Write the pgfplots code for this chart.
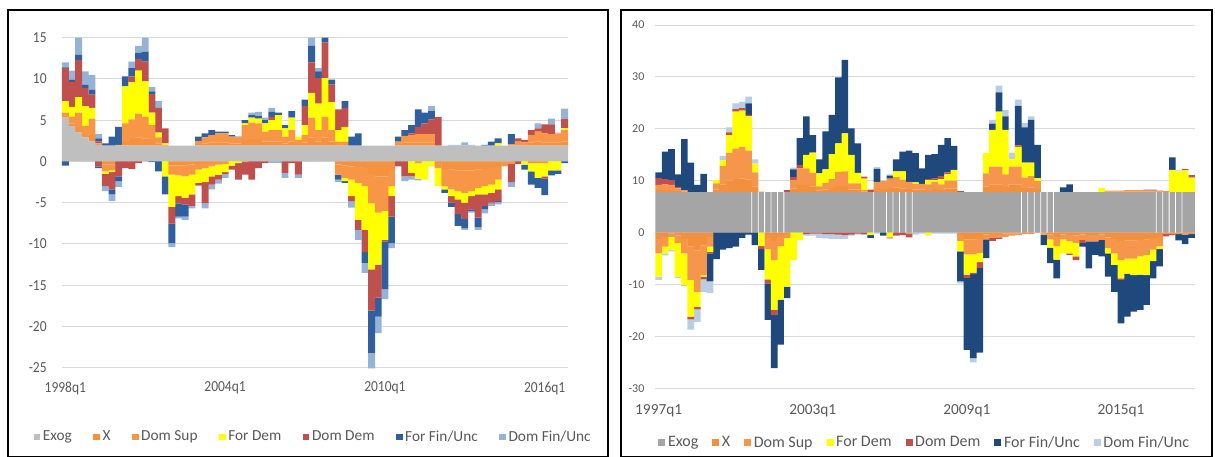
\documentclass[border=0pt]{standalone}
\usepackage{pgfplots}
\pgfplotsset{compat=1.18}
\usepackage{pgfplotstable}
\usepackage{fontspec}
\setmainfont{Carlito}
\newfontfamily\narrowfont[FakeStretch=0.88]{Carlito}

\definecolor{txt}{HTML}{595959}
\definecolor{gridc}{HTML}{D9D9D9}
% palette of the left chart
\definecolor{Lex}{HTML}{BFBFBF}
\definecolor{Lx}{HTML}{F5923F}
\definecolor{Lds}{HTML}{F79646}
\definecolor{Lfd}{HTML}{FFFF00}
\definecolor{Ldd}{HTML}{C0504D}
\definecolor{Lff}{HTML}{2F5F9E}
\definecolor{Ldf}{HTML}{95B3D7}
% palette of the right chart
\definecolor{Rex}{HTML}{A5A5A5}
\definecolor{Rx}{HTML}{F3903E}
\definecolor{Rds}{HTML}{F6964C}
\definecolor{Rfd}{HTML}{FFFF00}
\definecolor{Rdd}{HTML}{C0504D}
\definecolor{Rff}{HTML}{1F487C}
\definecolor{Rdf}{HTML}{B9CDE5}

% columns: quarter, Exog, then X, Dom Sup, For Dem, Dom Dem, For Fin/Unc, Dom Fin/Unc
% (positive parts *p, negative parts *n)
\pgfplotstableread{
q ex xp sp fp dp up vp xn sn fn dn un vn
0 5.3 0.2 0.4 1.4 4.0 0.1 0.6 0 0 0 0 -0.5 0
1 4.3 0.3 0.8 1.2 3.0 0.3 1.1 0 0 0 0 0 0
2 3.5 0.7 1.7 1.9 4.5 0.6 2.1 0 0 0 0 0 0
3 2.9 0.4 1.0 2.4 2.2 0.4 1.6 0 0 0 0 0 0
4 2.4 0.8 2.0 1.3 1.6 0.6 1.8 0 0 0 0 0 0
5 2.0 0 0.2 0 0.2 0.4 0.5 0 0 0 -0.6 -0.2 0
6 1.9 0 0 0 0 0.3 0 -0.4 -0.8 -0.3 -1.5 0 -0.6
7 1.9 0 0 0 0 1.1 0 -0.4 -0.7 -0.2 -2.1 -0.6 -0.8
8 1.9 0 0.1 0 0 2.2 0 0 0 0 -1.8 -0.6 -0.7
9 1.9 0.6 2.1 4.5 0 1.2 0 0 0 0 -0.8 0 0
10 1.9 0.8 2.4 4.5 0.7 1.0 0.8 0 0 0 -0.9 0 0
11 1.9 1.0 2.9 5.2 1.4 0.8 0.8 0 0 0 -0.2 0 0
12 1.9 0.9 2.6 4.3 2.4 1.2 1.7 0 0 0 0 0 0
13 1.9 0.7 1.8 1.5 2.3 0.3 0.5 0 0 0 0 -0.1 0
14 1.9 0.3 0.7 0.6 3.0 0 0.8 0 0 0 0 -1.2 0
15 1.9 0 0.1 0.2 1.8 0 0 0 0 -1.8 0 -2.2 0
16 1.9 0 0 0 0 0 0 -0.5 -1.1 -3.9 -2.0 -2.4 -0.5
17 1.9 0 0 0 0 0 0 -0.5 -1.2 -2.5 -0.9 -1.6 -0.2
18 1.9 0 0 0 0 0 0 -0.5 -1.3 -2.6 -0.8 -1.5 -0.4
19 1.9 0 0 0 0 0 0 -0.4 -1.2 -2.4 -1.4 0 -0.3
20 1.9 0.2 0.4 0 0 0.5 0 -0.3 -0.7 -1.6 -0.3 0 -0.1
21 1.9 0.3 0.7 0 0 0.5 0 -0.2 -0.6 -1.7 -2.6 0 -0.6
22 1.9 0.4 0.9 0 0 0.6 0 -0.2 -0.4 -1.2 -1.0 0 -0.6
23 1.9 0.4 1.1 0 0 0.2 0 -0.1 -0.3 -1.2 -0.6 0 -0.5
24 1.9 0.4 1.1 0 0 0.2 0 0 -0.3 -1.0 -0.2 0 -0.5
25 1.9 0.3 0.8 0 0 0.2 0 0 0 -0.5 -0.5 0 0
26 1.9 0.3 0.7 0 0 0.1 0 0 0 -0.2 -2.0 0 0
27 1.9 0.7 1.8 0.2 0 0.4 0 0 -0.1 0 -1.5 0 0
28 1.9 0.8 2.0 0.6 0 0.3 0.3 0 0 0 -2.2 0 0
29 1.9 0.8 1.9 0.6 0 0.3 0.5 0 0 0 -0.8 0 0
30 1.9 0.5 1.2 1.0 0 0.4 0.3 0 0 0 -0.2 0 0
31 1.9 0.5 1.4 1.2 0.4 0.6 0.5 0 0 0 0 0 -0.2
32 1.9 0.5 1.4 1.8 0 0.3 0 0 0 0 0 0 -0.2
33 1.9 0.3 0.8 1.0 0 0.4 0 0 0 0 -1.4 0 -0.6
34 1.9 0.5 1.4 1.5 0 0.8 0 0 0 0 -0.2 0 0
35 1.9 0.2 0.5 0.4 0 0 0 0 0 0 -1.6 0 -0.4
36 1.9 0.4 0.9 1.2 2.3 0.8 0 0 0 0 0 0 0
37 1.9 1.0 2.4 3.0 3.7 2.0 1.0 0 0 0 0 0 0
38 1.9 0.5 1.4 3.2 3.1 0.8 0.4 0 0 0 0 0 0
39 1.9 1.0 2.5 4.7 4.3 0.6 0 0 0 0 0 0 0
40 1.9 0.5 1.4 3.4 2.1 0.6 0 0 0 0 0 0 0
41 1.9 0.1 0.4 1.4 2.5 0 0 -0.4 -1.2 0 0 -0.6 -0.3
42 1.9 0.2 0.3 1.8 2.3 0.8 0 -0.5 -1.5 -0.4 0 -0.2 0
43 1.9 0 0 0 0 1.1 0 -0.6 -1.6 -2.0 -0.6 0 -0.8
44 1.9 0 0 0 0 1.5 0 -0.7 -1.9 -4.5 -1.2 0 -1.2
45 1.9 0 0 0 0 0 0 -0.8 -2.2 -5.3 -2.7 -1.3 -1.2
46 1.9 0 0 0 0 0 0 -1.5 -3.6 -8.0 -5.0 -5.1 -1.9
47 1.9 0 0 0 0 0 0 -1.8 -4.4 -6.3 -4.0 -2.3 -2.0
48 1.9 0 0 0 0 0 0 -1.8 -4.2 -3.5 -0.2 -5.8 -1.2
49 1.9 0 0 0 0 0 0 -0.9 -2.1 -1.2 -2.5 -3.2 -0.6
50 1.9 0.2 0.3 0 0 0.6 0 0 0 0 -0.6 0 0
51 1.9 0.4 0.8 0 0 0.7 0 0 0 0 -1.8 0 -0.6
52 1.9 0.4 0.9 0 0.2 1.0 0 0 0 -1.4 -0.4 0 -0.4
53 1.9 0.4 1.0 0 0.9 2.1 0 0 -0.2 -1.9 0 0 -0.2
54 1.9 0.4 1.0 0 1.3 1.3 0 0 0 -2.2 0 0 0
55 1.9 0.4 1.0 0 1.8 1.0 0.6 0 0 -0.6 0 0 0
56 1.9 0 0 0 3.5 0 0 -0.2 -0.6 -2.2 0 0 0
57 1.9 0 0 0 0 0 0 -0.9 -2.1 -0.4 0 -0.4 0
58 1.9 0 0 0 0 0 0.1 -1.0 -2.4 -0.8 -0.8 -0.5 0
59 1.9 0 0 0 0 0 0.1 -1.1 -2.5 -1.0 -1.8 -1.4 0
60 1.9 0 0 0 0 0 0.4 -1.1 -2.7 -1.2 -2.0 -1.1 -0.2
61 1.9 0 0 0 0 0 0.1 -1.1 -2.5 -0.6 -1.6 -0.2 -0.2
62 1.9 0 0 0 0 0 0 -1.0 -2.2 -0.8 -2.8 -1.2 -0.3
63 1.9 0 0 0 0 0.1 0 -0.9 -2.1 -1.0 -1.4 -0.4 -0.5
64 1.9 0 0 0 0 0.5 0 -0.8 -2.0 -1.0 -1.2 -0.1 -0.3
65 1.9 0 0 0.3 0 0.6 0 -0.7 -1.5 -1.2 -1.4 -0.1 -0.3
66 1.9 0 0 0 0 0 0 0 -0.6 0 0 0 0
67 1.9 0 0.2 0 0 1.2 0 0 -0.3 0 -2.2 0 -0.6
68 1.9 0.1 0.4 0 0.4 0 0 0 0 0 -0.3 0 0
69 1.9 0.1 0.3 0 0.3 0 0 0 0 -0.4 0 -0.6 0
70 1.9 0.4 0.9 0 0.6 0 0 -0.2 0 -1.0 0 -1.6 0
71 1.9 0.5 1.2 0 0.4 0 0.6 0 -0.2 -1.8 0 -1.2 0
72 1.9 0.4 1.1 0 1.1 0 0 0 -0.2 -1.6 -0.3 -2.0 0
73 1.9 0.4 1.0 0 1.2 0 0.7 0 0 -1.1 0 -0.6 0
74 1.9 0.4 1.1 0 0 0 0.1 0 0 -1.1 0 -0.4 0
75 1.9 0.5 1.4 0.2 1.2 0 1.2 0 0 0 0 -0.2 0
}\Left

\pgfplotstableread{
q ex xp sp fp dp up vp xn sn fn dn un vn
0 7.8 0.4 1.0 0 1.3 1.1 0 -1.2 -2.8 -4.5 0 0 -0.6
1 7.8 0.4 1.1 0 1.0 5.3 0 -0.8 -1.9 -1.3 0 0 -0.4
2 7.8 0.4 1.0 0 0.9 6.0 0 -0.2 -0.6 -2.5 0 0 -0.3
3 7.8 0.2 0.5 0 0.3 2.4 0 -0.6 -1.4 -6.5 0 0 -0.2
4 7.8 0.1 0.3 0 0 9.8 0 -1.2 -2.8 -6.1 0 0 -0.2
5 7.8 0 0 0 0 5.7 0 -2.7 -6.4 -7.1 -0.5 0 -2.0
6 7.8 0 0 0 0 1.4 0 -3.4 -8.0 -2.9 -0.5 0 -2.4
7 7.8 0 0 0 0 3.5 0 -2.5 -5.7 -0.3 -0.5 0 -2.4
8 7.8 0 0 0 0 0 0 -0.8 -1.9 -1.0 -0.3 -5.4 -2.2
9 7.8 0.5 1.2 0.6 0 0 0 0 0 0 0 -5.1 0
10 7.8 1.5 3.5 1.1 0 0 0.9 0 0 0 0 -3.3 0
11 7.8 2.2 5.3 3.5 0.5 0 1.0 0 0 0 0 -3.0 0
12 7.8 2.5 5.9 7.1 0.5 0 1.1 0 0 0 0 -2.7 0
13 7.8 2.6 6.1 7.0 0.5 0 1.2 0 0 0 0 -1.0 0
14 7.8 2.4 5.6 6.6 0.3 2.2 1.3 0 0 0 0 -0.4 0
15 7.8 1.1 2.7 1.7 0 0 0.8 0 0 0 0 -2.4 0
16 7.8 0 0.1 0 0 0 0 0 0 -2.6 -0.6 -4.0 0
17 7.8 0 0 0 0 0 0 -1.0 -2.2 -5.8 -0.8 -7.0 0
18 7.8 0 0 0 0 0 0 -1.6 -3.7 -9.6 -1.0 -10.2 0
19 7.8 0 0 0 0 0 0 -0.8 -1.8 -10.3 0 -8.7 0
20 7.8 0 0 0 0.4 0 0 -0.3 -0.7 -9.4 0 -2.2 0
21 7.8 0.7 1.6 0 0.6 1.5 0.3 0 0 -5.3 0 0 0
22 7.8 1.4 3.2 0 0.6 5.2 0 0 0 -1.4 0 0 0
23 7.8 1.4 3.2 2.6 0 7.4 0 0 0 0 -0.3 0 -0.3
24 7.8 1.1 2.6 3.9 0 3.4 0 0 0 0 -0.2 0 -0.4
25 7.8 0.3 0.8 2.5 0 2.7 0 0 0 0 -0.2 0 -0.8
26 7.8 0.5 1.3 2.6 0 7.3 0 0 0 0 -0.3 0 -0.8
27 7.8 0.8 1.7 4.8 0 7.6 0 0 0 0 -0.3 0 -0.9
28 7.8 1.2 2.7 5.5 0 12.7 0 0 0 0 -0.4 0 -0.8
29 7.8 1.2 2.8 7.3 0 14.2 0 0 0 0 -0.5 0 -0.7
30 7.8 0.5 1.2 5.5 0 5.1 0 0 0 0 -0.4 0 -0.2
31 7.8 0.5 1.2 2.0 0 5.7 0 0 0 0 -0.2 0 -0.2
32 7.8 0.1 0.3 2.2 0.4 0 0 0 0 0 -0.3 0 -0.2
33 7.8 0 0 0 0.5 0 0 0 0 -0.5 0 -0.5 0
34 7.8 0.6 1.4 0 0 2.5 0.3 0 0 0 0 0 -0.2
35 7.8 0.6 1.5 0 0 0 0.1 0 0 0 0 -0.6 0
36 7.8 0.8 1.8 0 0 0.6 0.2 0 0 -0.9 -0.2 0 0
37 7.8 0.9 2.0 1.1 0 2.3 0 0 0 0 -0.6 0 0
38 7.8 0.7 1.7 1.6 0 3.8 0 0 0 0 -0.5 0 0
39 7.8 0.6 1.4 0 0 6.0 0 0 -0.3 0 -0.6 0 0
40 7.8 0.5 1.1 0.3 0 5.6 0 0 0 0 0 0 -0.4
41 7.8 0.5 1.1 0 0 3.0 0 0 0 0 0 0 -0.2
42 7.8 0.4 1.1 0.8 0.2 4.7 0 0 0 -0.6 0 0 0
43 7.8 0.6 1.4 0.3 0.3 4.7 0 0 0 0 0 0 -0.2
44 7.8 0.4 1.1 1.0 0.6 6.0 0 0 0 0 0 0 -0.2
45 7.8 0.7 1.5 1.2 0.4 6.6 0 0 0 0 0 0 -0.2
46 7.8 0.7 1.5 2.1 0 4.6 0 0 0 0 0 0 -0.2
47 7.8 0 0 0 0.2 0 0 -0.5 -1.1 -2.0 0 -5.8 -0.4
48 7.8 0 0 0 0 0 0 -1.3 -2.9 -3.9 -0.6 -13.9 0
49 7.8 0 0 0 0 0 0 -1.3 -2.9 -3.5 -0.3 -16.2 -0.8
50 7.8 0 0 0 0 0 0 -1.2 -2.7 -1.8 -1.1 -16.3 0
51 7.8 1.1 2.5 3.9 0 0 0 -0.4 -0.9 0 0 -3.6 0
52 7.8 1.5 3.4 7.1 0 1.2 0.7 -0.3 -0.7 0 -0.6 0 0
53 7.8 1.5 3.4 10.6 0 3.7 1.3 -0.3 -0.6 0 -0.3 0 0
54 7.8 1.0 2.4 8.6 0 2.6 1.2 -0.2 -0.6 0 0 0 0
55 7.8 1.5 3.4 1.4 0 0 1.3 -0.2 -0.4 0 0 0 0
56 7.8 1.5 3.4 3.8 0.3 7.6 1.2 -0.2 -0.3 0 0 0 0
57 7.8 0.8 2.0 2.9 0 6.8 0.8 -0.1 -0.2 0 0 0 0
58 7.8 0.9 2.2 2.6 0 8.2 0.7 -0.1 -0.2 0 0 0 0
59 7.8 0.6 1.5 0.6 0 6.4 0 0 0 0 0 0 0
60 7.8 0 0 0 0 0 0 -0.2 -0.3 0 0 -1.9 0
61 7.8 0 0 0 0 0 0 -0.4 -0.9 -1.6 0 -3.0 0
62 7.8 0 0 0 0 0 0 -0.8 -1.8 -2.6 0 -3.6 0
63 7.8 0 0 0 0 0.9 0 -0.4 -0.9 -2.7 0 0 0
64 7.8 0 0 0 0 1.5 0 -0.5 -1.2 -2.3 -0.3 0 0
65 7.8 0 0 0 0 0 0 -0.6 -1.4 -2.6 -0.7 0 0
66 7.8 0 0 0 0 0 0 -0.4 -1.0 0 -0.6 -0.7 0
67 7.8 0 0 0 0 0 0 -0.5 -1.2 0 0 -5.2 0
68 7.8 0 0 0 0 0 0 -0.5 -1.2 0 0 -2.6 0
69 7.8 0 0 0.8 0 0 0 -0.4 -1.0 0 0 -3.2 0
70 7.8 0.1 0.2 0 0 0 0 -0.9 -2.1 -1.0 0 -4.5 0
71 7.8 0.1 0.2 0 0 0 0 -1.2 -2.8 -2.2 0 -5.2 0
72 7.8 0.1 0.2 0 0 0 0 -1.6 -3.7 -3.5 -0.3 -8.4 0
73 7.8 0.1 0.3 0 0 0 0 -1.5 -3.5 -2.9 0 -8.3 0
74 7.8 0.1 0.3 0 0 0 0 -1.5 -3.5 -3.2 0 -7.0 0
75 7.8 0.1 0.3 0 0 0 0 -1.4 -3.2 -3.5 0 -6.8 0
76 7.8 0.1 0.2 0 0.2 0 0 -1.3 -3.0 -3.9 0 -5.7 0
77 7.8 0.1 0.2 0 0.2 0 0 -1.0 -2.3 -2.2 0 -3.3 0
78 7.8 0.1 0.1 0 0.1 0 0 -0.8 -1.8 -0.6 0 -3.3 0
79 7.8 0 0.2 0 0 0 0 -0.1 -0.2 0 -0.4 0 0
80 7.8 0 0 4.3 0 2.4 0 -0.1 -0.2 0 -0.2 0 0
81 7.8 0 0 4.0 0 0 0.2 -0.1 -0.2 0 0 -1.2 0
82 7.8 0 0 4.2 0.3 0 0 -0.1 -0.3 0 0 -1.8 0
83 7.8 0 0 2.8 0.5 0 0 -0.1 -0.2 0 0 -0.7 0
}\Right

\pgfplotsset{
  panel/.style={
    scale only axis, anchor=south west,
    ybar stacked, bar width=1.03, clip=false,
    axis line style={draw=none}, major tick length=0pt,
    ymajorgrids, grid style={gridc, line width=0.7pt},
    tick label style={text=txt},
    every axis plot/.append style={draw=none},
    legend columns=7,
    legend cell align=left,
    legend style={anchor=center, draw=none, fill=none, text=txt},
  },
}

\begin{document}
\begin{tikzpicture}[x=1pt,y=1pt]
\useasboundingbox (0,0) rectangle (911.25,342.75);
\draw[line width=0.9pt] (6,0.45) rectangle (456,335.25);
\draw[line width=0.9pt] (465.75,0.45) rectangle (909,335.25);

% ---------------- left chart ----------------
\begin{axis}[panel, at={(46.5pt,67pt)}, width=379.5pt, height=247.5pt,
  xmin=-0.5, xmax=75.5, ymin=-25, ymax=15,
  ytick={-25,-20,...,15}, yticklabels={-25,-20,-15,-10,-5,0,5,10,15},
  yticklabel style={font=\narrowfont\fontsize{11.5}{13}\selectfont, xshift=-8pt},
  xtick={0,24,48,72}, xticklabels={1998q1,2004q1,2010q1,2016q1},
  xticklabel style={font=\narrowfont\fontsize{11.5}{13}\selectfont, yshift=-7pt},
  legend style={at={(0.497,-0.21)}, font=\fontsize{11.5}{13}\selectfont,
    /tikz/every even column/.append style={column sep=14pt}},
  legend image code/.code={\fill[#1] (0pt,-2.5pt) rectangle (5pt,2.5pt);}]
\addplot[fill=Lex] table[x=q,y=ex]{\Left};
\addplot[fill=Lx]  table[x=q,y=xp]{\Left};
\addplot[fill=Lds] table[x=q,y=sp]{\Left};
\addplot[fill=Lfd] table[x=q,y=fp]{\Left};
\addplot[fill=Ldd] table[x=q,y=dp]{\Left};
\addplot[fill=Lff] table[x=q,y=up]{\Left};
\addplot[fill=Ldf] table[x=q,y=vp]{\Left};
\legend{Exog,X,Dom Sup,For Dem,Dom Dem,For Fin/Unc,Dom Fin/Unc}
\end{axis}
\begin{axis}[panel, hide axis, at={(46.5pt,67pt)}, width=379.5pt, height=247.5pt,
  xmin=-0.5, xmax=75.5, ymin=-25, ymax=15]
\addplot[fill=Lx]  table[x=q,y=xn]{\Left};
\addplot[fill=Lds] table[x=q,y=sn]{\Left};
\addplot[fill=Lfd] table[x=q,y=fn]{\Left};
\addplot[fill=Ldd] table[x=q,y=dn]{\Left};
\addplot[fill=Lff] table[x=q,y=un]{\Left};
\addplot[fill=Ldf] table[x=q,y=vn]{\Left};
\end{axis}

% ---------------- right chart ----------------
\begin{axis}[panel, at={(491.6pt,51.5pt)}, width=404.5pt, height=272.5pt,
  xmin=-0.5, xmax=83.5, ymin=-30, ymax=40,
  ytick={-30,-20,...,40}, yticklabels={-30,-20,-10,0,10,20,30,40},
  yticklabel style={font=\fontsize{9}{11}\selectfont, xshift=-4.8pt},
  xtick={0,24,48,72}, xticklabels={1997q1,2003q1,2009q1,2015q1},
  xticklabel style={font=\fontsize{11.5}{13}\selectfont, yshift=-8.5pt},
  legend style={at={(0.5,-0.15)}, font=\fontsize{12}{14}\selectfont,
    /tikz/every even column/.append style={column sep=8.5pt}},
  legend image code/.code={\fill[#1] (0pt,-2.6pt) rectangle (5.2pt,2.6pt);}]
\addplot[fill=Rex] table[x=q,y=ex]{\Right};
\addplot[fill=Rx]  table[x=q,y=xp]{\Right};
\addplot[fill=Rds] table[x=q,y=sp]{\Right};
\addplot[fill=Rfd] table[x=q,y=fp]{\Right};
\addplot[fill=Rdd] table[x=q,y=dp]{\Right};
\addplot[fill=Rff] table[x=q,y=up]{\Right};
\addplot[fill=Rdf] table[x=q,y=vp]{\Right};
\legend{Exog,X,Dom Sup,For Dem,Dom Dem,For Fin/Unc,Dom Fin/Unc}
\end{axis}
\begin{axis}[panel, hide axis, at={(491.6pt,51.5pt)}, width=404.5pt, height=272.5pt,
  xmin=-0.5, xmax=83.5, ymin=-30, ymax=40]
\addplot[fill=Rx]  table[x=q,y=xn]{\Right};
\addplot[fill=Rds] table[x=q,y=sn]{\Right};
\addplot[fill=Rfd] table[x=q,y=fn]{\Right};
\addplot[fill=Rdd] table[x=q,y=dn]{\Right};
\addplot[fill=Rff] table[x=q,y=un]{\Right};
\addplot[fill=Rdf] table[x=q,y=vn]{\Right};
\end{axis}
% thin white seams between some of the Exog bars
\begin{axis}[scale only axis, anchor=south west, hide axis, clip=false,
  at={(491.6pt,51.5pt)}, width=404.5pt, height=272.5pt,
  xmin=-0.5, xmax=83.5, ymin=-30, ymax=40]
\addplot[ybar, bar width=0.12, bar shift=0pt, fill=white, draw=none] coordinates {
  (14.5,7.8) (15.5,7.8) (16.5,7.8) (17.5,7.8) (18.5,7.8) (19.5,7.8)
  (33.5,7.8) (35.5,7.8) (36.5,7.8) (37.5,7.8) (38.5,7.8) (39.5,7.8)
  (56.5,7.8) (57.5,7.8) (58.5,7.8) (59.5,7.8) (60.5,7.8) (61.5,7.8)
  (77.5,7.8) (78.5,7.8) (79.5,7.8) (80.5,7.8) (81.5,7.8)};
\end{axis}
\end{tikzpicture}
\end{document}
